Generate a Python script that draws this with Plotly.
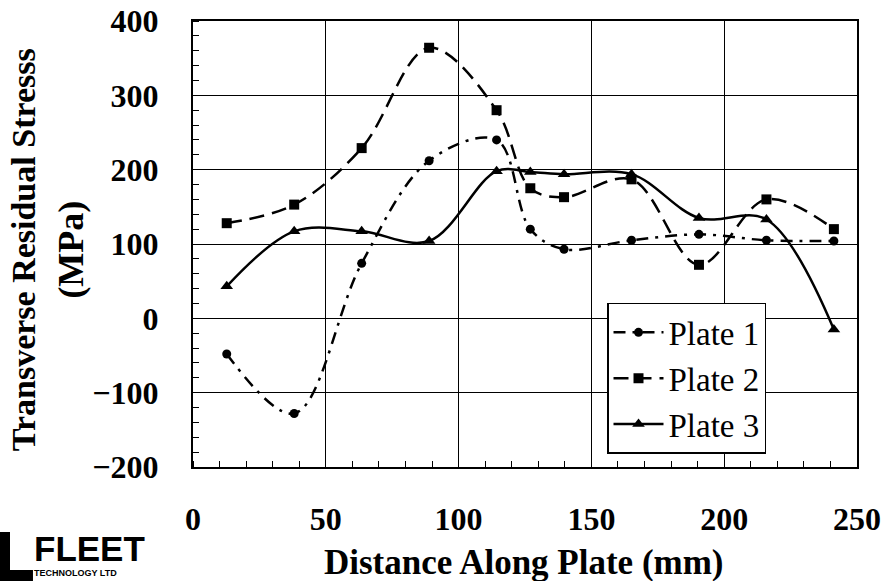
import plotly.graph_objects as go

distance_mm = [12.7, 38.1, 63.5, 88.9, 114.3, 127.0, 139.7, 165.1, 190.5, 215.9, 241.3]
plate1 = [-48, -128, 74, 212, 240, 120, 93, 105, 113, 105, 104]
plate2 = [128, 153, 229, 364, 280, 175, 163, 187, 72, 160, 120]
plate3 = [43, 117, 117, 104, 198, 197, 194, 194, 135, 133, -15]
series_names = ["Plate 1", "Plate 2", "Plate 3"]
x_ticks = [0, 50, 100, 150, 200, 250]
y_ticks = [-200, -100, 0, 100, 200, 300, 400]

serif = "Liberation Serif"
fig = go.Figure()
styles = [("12px,7px,3px,7px", "circle", 9), ("15px,8px", "square", 10), ("solid", "triangle-up", 11)]
for name, ys, (dash, sym, ms) in zip(series_names, [plate1, plate2, plate3], styles):
    fig.add_trace(go.Scatter(
        x=distance_mm, y=ys, name=name, mode="lines+markers",
        line=dict(color="black", width=2.5, dash=dash, shape="spline", smoothing=1.0),
        marker=dict(symbol=sym, size=ms, color="black"),
    ))

axis_common = dict(showline=True, linecolor="black", linewidth=2, mirror=True,
                   showgrid=True, gridcolor="black", gridwidth=1, zeroline=False,
                   ticks="", automargin=False,
                   tickfont=dict(family=serif, size=32, color="black", weight="bold"))
fig.update_layout(
    width=887, height=581,
    margin=dict(l=193, r=30, t=21, b=114),
    paper_bgcolor="white", plot_bgcolor="white",
    font=dict(family=serif, color="black"),
    showlegend=True,
    legend=dict(x=0.6235, y=0.368, xanchor="left", yanchor="top",
                bgcolor="white", bordercolor="black", borderwidth=1.5,
                font=dict(family=serif, size=33, color="black"),
                itemwidth=50, tracegroupgap=0),
    xaxis=dict(range=[0, 250], tickvals=x_ticks, ticklabelstandoff=23,
               minor=dict(ticks="inside", dtick=10, ticklen=6, tickcolor="black", showgrid=False),
               **axis_common),
    yaxis=dict(range=[-200, 400], tickvals=y_ticks, ticklabelstandoff=26,
               minor=dict(ticks="inside", dtick=20, ticklen=6, tickcolor="black", showgrid=False),
               **axis_common),
    annotations=[
        dict(text="Distance Along Plate (mm)", xref="paper", yref="paper", x=0.498, y=-0.215,
             xanchor="center", yanchor="middle", showarrow=False,
             font=dict(family=serif, size=35, color="black", weight="bold")),
        dict(text="Transverse Residual Stresss", xref="paper", yref="paper", x=-0.256, y=0.486,
             xanchor="center", yanchor="middle", showarrow=False, textangle=-90,
             font=dict(family=serif, size=34, color="black", weight="bold")),
        dict(text="(MPa)", xref="paper", yref="paper", x=-0.184, y=0.487,
             xanchor="center", yanchor="middle", showarrow=False, textangle=-90,
             font=dict(family=serif, size=36, color="black", weight="bold")),
        dict(text="FLEET", xref="paper", yref="paper", x=-0.242, y=-0.1827,
             xanchor="left", yanchor="middle", showarrow=False,
             font=dict(family="Liberation Sans, sans-serif", size=35, color="black", weight="bold")),
        dict(text="TECHNOLOGY LTD", xref="paper", yref="paper", x=-0.242, y=-0.237,
             xanchor="left", yanchor="middle", showarrow=False,
             font=dict(family="Liberation Sans, sans-serif", size=9, color="black", weight="bold")),
    ],
    shapes=[
        dict(type="rect", xref="paper", yref="paper", x0=-0.2907, x1=-0.2756, y0=-0.2556, y1=-0.1457,
             fillcolor="black", line=dict(width=0)),
        dict(type="rect", xref="paper", yref="paper", x0=-0.2907, x1=-0.241, y0=-0.2556, y1=-0.231,
             fillcolor="black", line=dict(width=0)),
    ],
)
fig.write_html("out.html", config={"displayModeBar": False},
               post_script="document.body.style.margin='0';")
